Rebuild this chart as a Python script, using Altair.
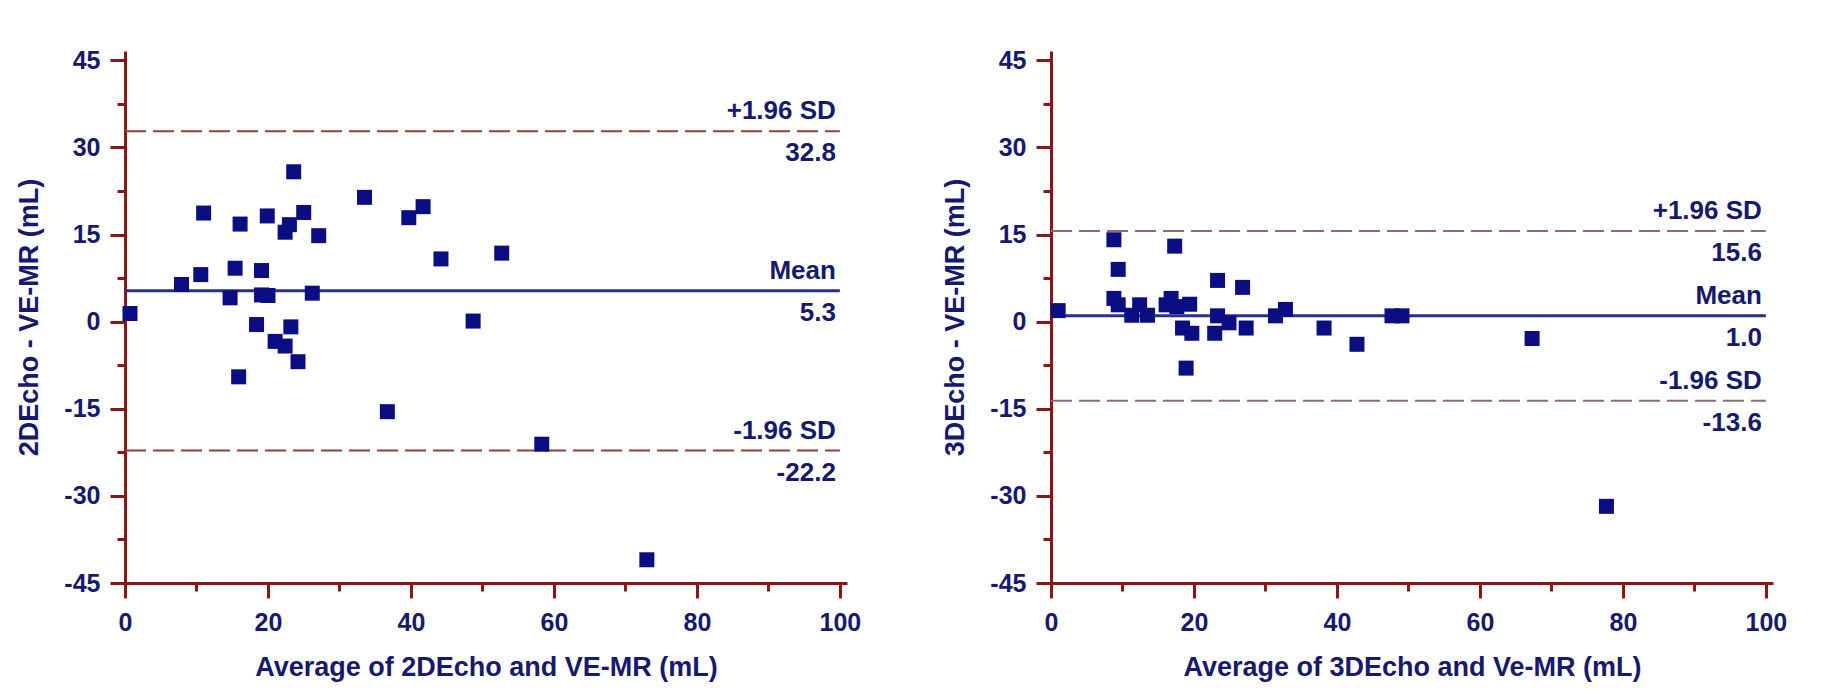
import altair as alt
import pandas as pd

# ---------------- data ----------------
# Left panel: 2DEcho vs VE-MR
x_2d = [0.7, 7.9, 10.6, 11.0, 14.7, 15.4, 16.1, 15.9, 18.4, 19.1, 19.1, 20.0, 19.9,
        21.0, 22.4, 22.4, 23.0, 23.2, 23.6, 24.2, 25.0, 26.2, 27.1, 33.5, 36.7,
        39.7, 41.7, 44.2, 48.7, 52.7, 58.3, 73.0]
y_2d = [1.4, 6.4, 8.1, 18.7, 4.1, 9.2, 16.8, -9.5, -0.5, 8.8, 4.6, 4.5, 18.2,
        -3.4, -4.2, 15.4, 16.7, -0.9, 25.8, -6.9, 18.8, 4.9, 14.8, 21.4, -15.5,
        17.9, 19.8, 10.8, 0.1, 11.8, -21.1, -41.0]
stats_2d = [32.8, 5.3, -22.2]

# Right panel: 3DEcho vs Ve-MR
x_3d = [1.0, 8.8, 9.4, 8.8, 9.4, 11.3, 12.4, 13.5, 16.1, 16.8, 17.3, 17.6, 18.4,
        19.4, 18.9, 19.7, 22.9, 23.3, 23.3, 24.9, 26.8, 27.3, 31.4, 32.8, 38.2,
        42.8, 47.7, 49.1, 67.3, 77.7]
y_3d = [1.9, 14.1, 9.0, 4.0, 2.9, 1.1, 2.9, 1.1, 2.9, 4.0, 13.0, 2.6, -1.1,
        3.0, -8.0, -2.0, -2.0, 7.1, 1.0, -0.2, 5.9, -1.1, 1.0, 2.1, -1.1,
        -3.9, 1.0, 1.0, -2.9, -31.8]
stats_3d = [15.6, 1.0, -13.6]

line_kinds = ["sd", "mean", "sd"]
label_above = ["+1.96 SD", "Mean", "-1.96 SD"]
line_x = [0, 100]

x_ticks = [0, 10, 20, 30, 40, 50, 60, 70, 80, 90, 100]
y_ticks = [-45, -37.5, -30, -22.5, -15, -7.5, 0, 7.5, 15, 22.5, 30, 37.5, 45]

# ---------------- style ----------------
FONT = "Liberation Sans"
NAVY = "#0b0e82"
TEXT = "#16196e"
AXIS = "#8b1616"
MEAN = "#2b2f8c"


def panel(xs, ys, stats, xtitle, ytitle, dash_color):
    pts = pd.DataFrame({"x": xs, "y": ys})
    lines = pd.DataFrame({
        "y": stats,
        "kind": line_kinds,
        "x0": [line_x[0]] * 3,
        "x1": [line_x[1]] * 3,
        "above": label_above,
        "below": [f"{v:.1f}" for v in stats],
        "lx": [line_x[1]] * 3,
    })

    xscale = alt.Scale(domain=[0, 101], nice=False, zero=False)
    yscale = alt.Scale(domain=[-45, 46.6], nice=False, zero=False)

    xaxis = alt.Axis(
        values=x_ticks,
        labelExpr="datum.value % 20 === 0 ? '' + datum.value : ''",
        tickSize={"condition": {"test": "datum.value % 20 === 0", "value": 15}, "value": 8},
        tickWidth=3, tickColor=AXIS, domainColor=AXIS, domainWidth=3,
        labelFont=FONT, labelFontSize=25, labelFontWeight="bold", labelColor=TEXT,
        labelPadding=12, labelOverlap=False, labelFlush=False,
        title=xtitle, titleFont=FONT, titleFontSize=27, titleFontWeight="bold",
        titleColor=TEXT, titlePadding=19, grid=False,
    )
    yaxis = alt.Axis(
        values=y_ticks,
        labelExpr="datum.value % 15 === 0 ? '' + datum.value : ''",
        tickSize={"condition": {"test": "datum.value % 15 === 0", "value": 15}, "value": 8},
        tickWidth=3, tickColor=AXIS, domainColor=AXIS, domainWidth=3,
        labelFont=FONT, labelFontSize=25, labelFontWeight="bold", labelColor=TEXT,
        labelPadding=10, labelOverlap=False, labelFlush=False,
        title=ytitle, titleFont=FONT, titleFontSize=27, titleFontWeight="bold",
        titleColor=TEXT, titlePadding=20, grid=False,
    )

    base_lines = alt.Chart(lines)
    sd_lines = base_lines.transform_filter("datum.kind === 'sd'").mark_rule(
        color=dash_color, strokeWidth=2, strokeDash=[21, 7]
    ).encode(
        x=alt.X("x0:Q", scale=xscale, axis=xaxis),
        x2="x1:Q",
        y=alt.Y("y:Q", scale=yscale, axis=yaxis),
    )
    mean_line = base_lines.transform_filter("datum.kind === 'mean'").mark_rule(
        color=MEAN, strokeWidth=3
    ).encode(
        x=alt.X("x0:Q", scale=xscale),
        x2="x1:Q",
        y=alt.Y("y:Q", scale=yscale),
    )
    txt_above = base_lines.mark_text(
        align="right", baseline="alphabetic", dx=-4, dy=-12,
        font=FONT, fontSize=26, fontWeight="bold", color=TEXT
    ).encode(
        x=alt.X("lx:Q", scale=xscale),
        y=alt.Y("y:Q", scale=yscale),
        text="above:N",
    )
    txt_below = base_lines.mark_text(
        align="right", baseline="alphabetic", dx=-4, dy=30,
        font=FONT, fontSize=26, fontWeight="bold", color=TEXT
    ).encode(
        x=alt.X("lx:Q", scale=xscale),
        y=alt.Y("y:Q", scale=yscale),
        text="below:N",
    )
    points = alt.Chart(pts).mark_square(size=225, color=NAVY, opacity=1).encode(
        x=alt.X("x:Q", scale=xscale),
        y=alt.Y("y:Q", scale=yscale),
    )
    return alt.layer(sd_lines, mean_line, txt_above, txt_below, points).properties(
        width=722, height=532
    )


left = panel(x_2d, y_2d, stats_2d,
             "Average of 2DEcho and VE-MR (mL)", "2DEcho - VE-MR (mL)", "#9a3c3c")
right = panel(x_3d, y_3d, stats_3d,
              "Average of 3DEcho and Ve-MR (mL)", "3DEcho - VE-MR (mL)", "#8c6e6e")

chart = alt.hconcat(left, right, spacing=80).properties(
    padding={"left": 7, "top": 40, "right": 5, "bottom": 5},
    background="white",
).configure_view(stroke=None)

chart.save("out.html", embed_options={"renderer": "svg", "actions": False})
